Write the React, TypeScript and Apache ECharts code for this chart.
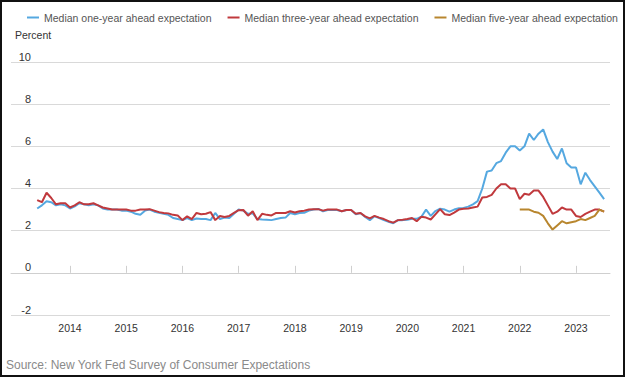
import React, { useEffect, useRef } from "react";
import * as echarts from "echarts";

// Monthly medians, June 2013 – July 2023
const startYear = 2013;
const startMonth = 6;
const oneYear = [
  3.05, 3.2, 3.4, 3.35, 3.2, 3.25, 3.2,
  3.05, 3.15, 3.3, 3.25, 3.2, 3.25, 3.2, 3.05, 3.0, 3.0, 3.0, 2.95,
  2.95, 2.9, 2.8, 2.76, 2.95, 3.0, 2.9, 2.85, 2.8, 2.75, 2.6, 2.55,
  2.5, 2.6, 2.5, 2.58, 2.55, 2.55, 2.5, 2.84, 2.55, 2.62, 2.6, 2.8,
  3.0, 2.95, 2.8, 2.82, 2.55, 2.53, 2.52, 2.5, 2.55, 2.6, 2.62, 2.84,
  2.78, 2.84, 2.85, 2.95, 3.0, 3.03, 2.92, 2.98, 2.98, 2.98, 2.92, 2.98,
  2.98, 2.78, 2.84, 2.65, 2.5, 2.68, 2.6, 2.5, 2.42, 2.35, 2.5, 2.5,
  2.52, 2.56, 2.56, 2.66, 3.0, 2.7, 2.93, 3.04, 3.0, 2.9, 3.0, 3.06,
  3.08, 3.14, 3.25, 3.4, 4.0, 4.8, 4.85, 5.2, 5.3, 5.7, 6.0, 6.0,
  5.8, 6.0, 6.6, 6.3, 6.6, 6.8, 6.2, 5.75, 5.4, 5.9, 5.2, 5.0,
  5.0, 4.2, 4.75, 4.4, 4.1, 3.8, 3.5,
];
const threeYear = [
  3.45, 3.35, 3.8, 3.55, 3.25, 3.3, 3.3,
  3.1, 3.2, 3.35, 3.25, 3.25, 3.3, 3.2, 3.1, 3.05, 3.0, 3.0, 3.0,
  3.0, 2.95, 2.95, 3.0, 3.0, 3.02, 2.95, 2.88, 2.84, 2.82, 2.75, 2.72,
  2.5, 2.68, 2.55, 2.84, 2.78, 2.8, 2.88, 2.5, 2.7, 2.65, 2.7, 2.84,
  2.97, 2.98, 2.71, 2.92, 2.5, 2.8, 2.75, 2.72, 2.84, 2.84, 2.84, 2.92,
  2.86, 2.92, 2.95, 3.0, 3.02, 3.02, 2.95, 3.0, 3.0, 3.0, 2.92, 2.98,
  2.98, 2.8, 2.84, 2.68, 2.58, 2.7, 2.62, 2.55, 2.45, 2.38, 2.5, 2.52,
  2.55, 2.6, 2.45, 2.66, 2.62, 2.53, 2.77, 3.02, 2.78, 2.74, 2.86, 3.0,
  3.04, 3.05, 3.1, 3.14, 3.57, 3.6, 3.7, 4.0, 4.2, 4.2, 4.0, 4.0,
  3.5, 3.75, 3.7, 3.9, 3.9, 3.6, 3.2, 2.8, 2.9, 3.1, 3.0, 3.0,
  2.7, 2.65, 2.8, 2.9, 3.0, 3.0, 2.9,
];
// Five-year series begins January 2022
const fiveStartYear = 2022;
const fiveStartMonth = 1;
const fiveYear = [
  3.0, 3.0, 3.0, 2.9, 2.85, 2.7, 2.35, 2.05, 2.25, 2.45, 2.35, 2.4,
  2.45, 2.55, 2.5, 2.6, 2.7, 3.0, 2.9,
];
const yearTicks = [2014, 2015, 2016, 2017, 2018, 2019, 2020, 2021, 2022, 2023];
const seriesNames = [
  "Median one-year ahead expectation",
  "Median three-year ahead expectation",
  "Median five-year ahead expectation",
];
const seriesColors = ["#55a8e0", "#c0393d", "#b8862e"];

const toPoints = (vals: number[], y0: number, m0: number) =>
  vals.map((v, i) => [y0 + (m0 - 1 + i) / 12, v]);

export default function App() {
  const ref = useRef<HTMLDivElement>(null);
  useEffect(() => {
    if (!ref.current) return;
    const chart = echarts.init(ref.current, null, { renderer: "svg" });
    const font = "'Liberation Sans', Arial, sans-serif";
    chart.setOption({
      animation: false,
      textStyle: { fontFamily: font },
      legend: {
        left: 27,
        top: 12,
        width: 610,
        padding: 0,
        icon: "rect",
        itemWidth: 12,
        itemHeight: 2,
        itemGap: 16,
        textStyle: { fontSize: 10.5, color: "#555", fontFamily: font },
        data: seriesNames,
      },
      graphic: [
        {
          type: "text",
          left: 6,
          top: 359,
          style: {
            text: "Source: New York Fed Survey of Consumer Expectations",
            fontSize: 12,
            fill: "#8a8a8a",
            fontFamily: font,
          },
        },
      ],
      grid: { left: 11, right: 15, top: 62, bottom: 62, containLabel: false },
      xAxis: {
        type: "value",
        min: 2012.9506,
        max: 2023.605,
        axisLine: { show: true, lineStyle: { color: "#cfcfcf", width: 1 } },
        axisTick: {
          show: true,
          inside: true,
          length: 7,
          customValues: yearTicks,
          lineStyle: { color: "#cfcfcf" },
        },
        axisLabel: {
          customValues: yearTicks,
          formatter: (v: number) => String(Math.round(v)),
          fontSize: 10.5,
          color: "#333",
          margin: 7,
        },
        splitLine: { show: false },
      },
      yAxis: {
        type: "value",
        min: -2,
        max: 10,
        interval: 2,
        name: "Percent",
        nameLocation: "end",
        nameGap: 27,
        nameTextStyle: {
          align: "left",
          verticalAlign: "middle",
          padding: [0, 0, 0, 4],
          fontSize: 10.5,
          color: "#333",
          fontFamily: font,
        },
        axisLine: { show: false },
        axisTick: { show: false },
        axisLabel: {
          margin: -20,
          align: "right",
          verticalAlign: "bottom",
          fontSize: 11,
          color: "#333",
        },
        splitLine: { lineStyle: { color: "#d9d9d9", width: 1 } },
      },
      series: [
        {
          name: seriesNames[0],
          type: "line",
          data: toPoints(oneYear, startYear, startMonth),
          showSymbol: false,
          lineStyle: { width: 2, color: seriesColors[0] },
          itemStyle: { color: seriesColors[0] },
          z: 2,
        },
        {
          name: seriesNames[1],
          type: "line",
          data: toPoints(threeYear, startYear, startMonth),
          showSymbol: false,
          lineStyle: { width: 2, color: seriesColors[1] },
          itemStyle: { color: seriesColors[1] },
          z: 3,
        },
        {
          name: seriesNames[2],
          type: "line",
          data: toPoints(fiveYear, fiveStartYear, fiveStartMonth),
          showSymbol: false,
          lineStyle: { width: 2, color: seriesColors[2] },
          itemStyle: { color: seriesColors[2] },
          z: 4,
        },
      ],
    });
    return () => chart.dispose();
  }, []);
  return (
    <>
      <div
        ref={ref}
        style={{ position: "fixed", left: 0, top: 0, width: 625, height: 377, background: "#fff" }}
      />
      <div
        style={{
          position: "fixed",
          left: 0,
          top: 0,
          width: 625,
          height: 377,
          boxSizing: "border-box",
          border: "2px solid #111",
          pointerEvents: "none",
        }}
      />
    </>
  );
}
